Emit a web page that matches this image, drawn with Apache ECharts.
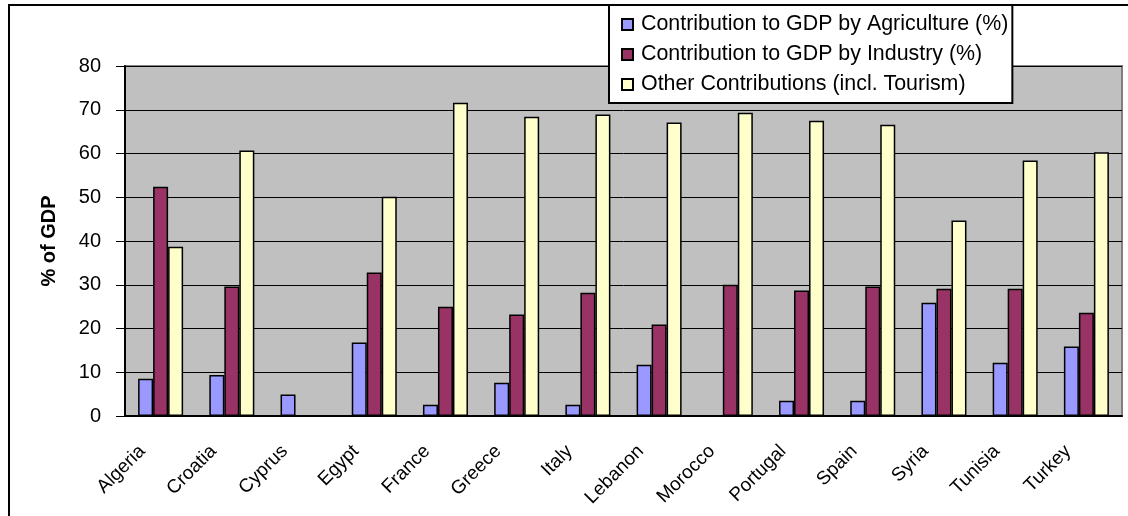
<!DOCTYPE html>
<html>
<head>
<meta charset="utf-8">
<title>Contribution to GDP</title>
<script src="https://cdn.jsdelivr.net/npm/echarts@6/dist/echarts.min.js"></script>
<style>
  html, body { margin: 0; padding: 0; background: #fff; }
  #chart { width: 1128px; height: 516px; }
</style>
</head>
<body>
<div id="chart"></div>
<script>
// Countries on the x axis
var countries = ['Algeria', 'Croatia', 'Cyprus', 'Egypt', 'France', 'Greece', 'Italy',
  'Lebanon', 'Morocco', 'Portugal', 'Spain', 'Syria', 'Tunisia', 'Turkey'];

// Series values (% of GDP), null where there is no bar
var agriculture = [8.5, 9.4, 4.9, 16.8, 2.6, 7.6, 2.6, 11.7, null, 3.5, 3.5, 25.9, 12.2, 15.9];
var industry = [52.4, 29.6, null, 32.8, 25.0, 23.2, 28.2, 20.9, 30.0, 28.7, 29.6, 29.1, 29.1, 23.6];
var other = [38.7, 60.7, null, 50.1, 71.6, 68.4, 68.9, 67.1, 69.3, 67.5, 66.6, 44.7, 58.4, 60.3];

var seriesNames = ['Contribution to GDP by Agriculture (%)', 'Contribution to GDP by Industry (%)', 'Other Contributions (incl. Tourism)'];
var seriesColors = ['#9999FF', '#993366', '#FFFFCC'];

var myChart = echarts.init(document.getElementById('chart'));

function barSeries(i, data) {
  return {
    name: seriesNames[i],
    type: 'bar',
    data: data,
    barWidth: 15,
    barGap: '0%',
    itemStyle: { color: seriesColors[i], borderColor: '#000', borderWidth: 1.5 }
  };
}

var option = {
  animation: false,
  textStyle: { fontFamily: 'Liberation Sans, Arial, sans-serif' },
  graphic: [{
    type: 'rect',
    shape: { x: 9, y: 5, width: 1130, height: 600 },
    style: { fill: 'none', stroke: '#000', lineWidth: 2 },
    z: 100
  }],
  legend: {
    orient: 'vertical',
    left: 609,
    top: 5,
    padding: [9, 4, 8, 12],
    itemGap: 9,
    itemWidth: 11,
    itemHeight: 11,
    icon: 'rect',
    backgroundColor: '#fff',
    borderColor: '#000',
    borderWidth: 2,
    itemStyle: { borderColor: '#000', borderWidth: 2 },
    textStyle: { fontSize: 21.4, color: '#000', padding: [0, 0, 0, 3] },
    data: seriesNames,
    z: 120
  },
  grid: {
    left: 125,
    top: 66,
    right: 6,
    bottom: 100,
    show: true,
    backgroundColor: '#C0C0C0',
    borderColor: '#808080',
    borderWidth: 2
  },
  xAxis: {
    type: 'category',
    data: countries,
    axisLine: { lineStyle: { color: '#000', width: 2 } },
    axisTick: { show: false },
    axisLabel: {
      interval: 0,
      rotate: 45,
      fontSize: 19,
      color: '#000',
      margin: 14,
      padding: [0, 26, 0, 0]
    }
  },
  yAxis: {
    type: 'value',
    min: 0,
    max: 80,
    interval: 10,
    name: '% of GDP',
    nameLocation: 'middle',
    nameGap: 66,
    nameTextStyle: { fontSize: 20, fontWeight: 'bold', color: '#000' },
    axisLine: { show: true, lineStyle: { color: '#000', width: 2 } },
    axisTick: { show: true, length: 9, lineStyle: { color: '#000', width: 1 } },
    axisLabel: { fontSize: 20, color: '#000', margin: 24 },
    splitLine: { lineStyle: { color: '#000', width: 1 } }
  },
  series: [
    barSeries(0, agriculture),
    barSeries(1, industry),
    barSeries(2, other)
  ]
};

myChart.setOption(option);
</script>
</body>
</html>
